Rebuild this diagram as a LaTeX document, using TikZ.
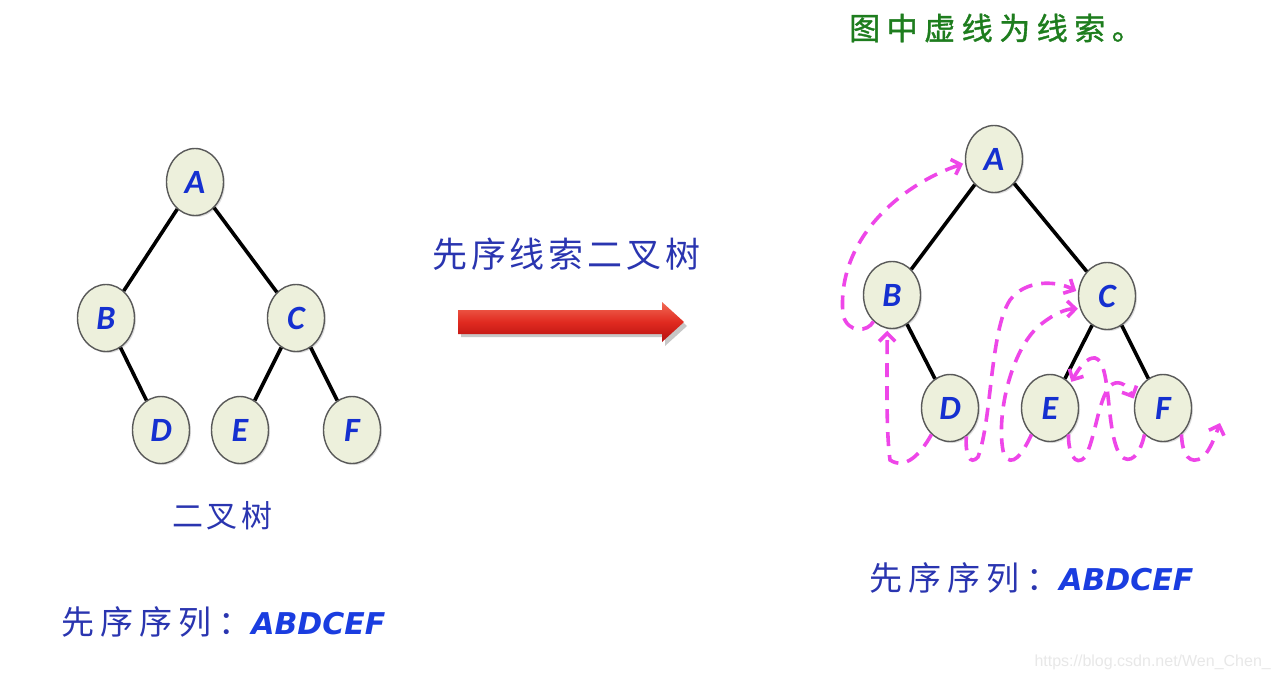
\documentclass[tikz,border=0pt]{standalone}
\usepackage{fontspec}
\setmainfont{Carlito}
\newfontfamily\cjk{Noto Sans CJK SC}
\newfontfamily\seqfont{DejaVu Sans}
\newfontfamily\wmfont{Liberation Sans}
\usetikzlibrary{shapes.geometric,arrows.meta,shadows}
\definecolor{nodefill}{HTML}{EDF0DC}
\definecolor{nodeblue}{HTML}{1530D0}
\definecolor{cjkblue}{HTML}{2A35B0}
\definecolor{seqblue}{HTML}{1A3DE0}
\definecolor{titlegreen}{HTML}{1E7D1E}
\definecolor{thread}{RGB}{238,70,232}
\definecolor{arrowtop}{HTML}{F26A55}
\definecolor{arrowmid}{HTML}{E02A20}
\definecolor{arrowbot}{HTML}{B51010}
\begin{document}
\begin{tikzpicture}[x=1pt,y=-1pt,
  tn/.style={ellipse, draw=black!65, line width=1.4pt, fill=nodefill,
    minimum width=57pt, minimum height=67pt, inner sep=0pt,
    font=\fontsize{34}{34}\selectfont\bfseries\itshape, text=nodeblue,
    drop shadow={opacity=0.25, shadow xshift=1.5pt, shadow yshift=-1.5pt}},
  treeedge/.style={line width=3.6pt, draw=black},
  thr/.style={draw=thread, line width=3.6pt, dash pattern=on 14pt off 9pt,
    -{Straight Barb[length=8pt,width=16pt]}, shorten >=2pt},
  cjktext/.style={inner sep=0pt}
]
\useasboundingbox (0,0) rectangle (1279,680);
\fill[white] (0,0) rectangle (1279,680);

% ---- left tree ----
\node[tn] (lA) at (195,182) {A};
\node[tn] (lB) at (106,318) {B};
\node[tn] (lC) at (296,318) {C};
\node[tn] (lD) at (161,430) {D};
\node[tn] (lE) at (240,430) {E};
\node[tn] (lF) at (352,430) {F};
\draw[treeedge] (lA) -- (lB);
\draw[treeedge] (lA) -- (lC);
\draw[treeedge] (lB) -- (lD);
\draw[treeedge] (lC) -- (lE);
\draw[treeedge] (lC) -- (lF);

% ---- right tree ----
\node[tn] (rA) at (994,159) {A};
\node[tn] (rB) at (892,295) {B};
\node[tn] (rC) at (1107,296) {C};
\node[tn] (rD) at (950,408) {D};
\node[tn] (rE) at (1050,408) {E};
\node[tn] (rF) at (1163,408) {F};
\draw[treeedge] (rA) -- (rB);
\draw[treeedge] (rA) -- (rC);
\draw[treeedge] (rB) -- (rD);
\draw[treeedge] (rC) -- (rE);
\draw[treeedge] (rC) -- (rF);

% ---- threads ----
\coordinate (nullF) at (1220,423);
\draw[thr] (rB.235) .. controls (868,332) and (848,334) .. (843,315)
  .. controls (836,240) and (900,185) .. (rA.188);
\draw[thr] (rD.235) .. controls (920,455) and (905,470) .. (890,460)
  .. controls (886,430) and (887,380) .. (rB.262);
\draw[thr] (rD.-60) .. controls (965,455) and (970,466) .. (978,457)
  .. controls (992,420) and (990,330) .. (1010,300)
  .. controls (1025,280) and (1055,280) .. (rC.172);
\draw[thr] (rE.235) .. controls (1022,455) and (1012,468) .. (1004,455)
  .. controls (995,420) and (1010,350) .. (1040,325)
  .. controls (1055,313) and (1066,309) .. (rC.205);
\draw[thr] (rE.-55) .. controls (1068,452) and (1075,468) .. (1085,457)
  .. controls (1095,440) and (1098,400) .. (1110,386)
  .. controls (1116,380) and (1126,382) .. (rF.165);
\draw[thr] (rF.235) .. controls (1140,455) and (1130,466) .. (1120,455)
  .. controls (1105,430) and (1112,362) .. (1095,358)
  .. controls (1088,357) and (1080,366) .. (rE.50);
\draw[thr, shorten >=0pt] (rF.-55) .. controls (1182,455) and (1190,466) .. (1203,457)
  .. controls (1210,450) and (1215,437) .. (nullF);

% ---- big arrow ----
\fill[black!22] (461,315) -- (665,315) -- (665,306) -- (687,326) -- (665,346) -- (665,337) -- (461,337) -- cycle;
\shade[top color=arrowtop, bottom color=arrowbot, middle color=arrowmid]
  (458,310) -- (662,310) -- (662,302) -- (684,322) -- (662,342) -- (662,334) -- (458,334) -- cycle;

% ---- texts ----
\node[cjktext, anchor=west, text=titlegreen] (title) at (849,28)
  {\cjk\addfontfeature{LetterSpace=21,FakeBold=1.2}\fontsize{31}{31}\selectfont 图中虚线为线索。};
\node[cjktext, anchor=west, text=cjkblue] (mid) at (432,254)
  {\cjk\addfontfeature{LetterSpace=11}\fontsize{35}{35}\selectfont 先序线索二叉树};
\node[cjktext, anchor=west, text=cjkblue] (lcap) at (172,516)
  {\cjk\addfontfeature{LetterSpace=12}\fontsize{31}{31}\selectfont 二叉树};
\node[cjktext, anchor=west] (lseq) at (61,622)
  {\textcolor{cjkblue}{\cjk\addfontfeature{LetterSpace=19}\fontsize{33}{33}\selectfont 先序序列：}\textcolor{seqblue}{\seqfont\fontsize{30}{30}\selectfont\bfseries\itshape ABDCEF}};
\node[cjktext, anchor=west] (rseq) at (869,578)
  {\textcolor{cjkblue}{\cjk\addfontfeature{LetterSpace=19}\fontsize{33}{33}\selectfont 先序序列：}\textcolor{seqblue}{\seqfont\fontsize{30}{30}\selectfont\bfseries\itshape ABDCEF}};
\node[inner sep=0pt, anchor=east, text=black!9] (wm) at (1271,662)
  {\wmfont\fontsize{16}{16}\selectfont https://blog.csdn.net/Wen\_Chen\_};
\end{tikzpicture}
\end{document}
